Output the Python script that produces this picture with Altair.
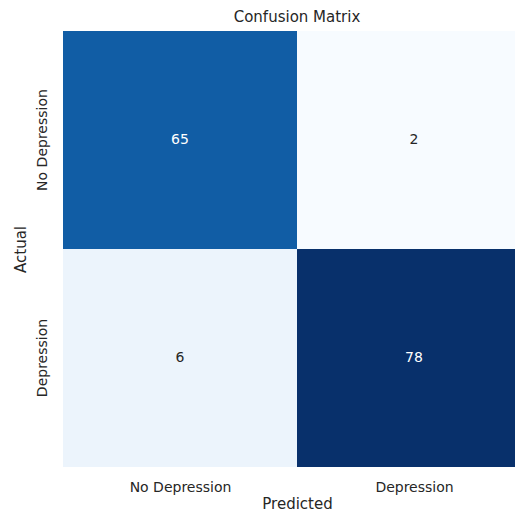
import altair as alt
import pandas as pd

labels = ["No Depression", "Depression"]
actual = ["No Depression", "No Depression", "Depression", "Depression"]
predicted = ["No Depression", "Depression", "No Depression", "Depression"]
counts = [65, 2, 6, 78]

blues = ["#f7fbff", "#deebf7", "#c6dbef", "#9ecae1", "#6baed6",
         "#4292c6", "#2171b5", "#08519c", "#08306b"]
vmin, vmax = 2, 78
stops = [vmin + i * (vmax - vmin) / 8 for i in range(9)]

df = pd.DataFrame({"Actual": actual, "Predicted": predicted, "count": counts})
df["px"] = [labels.index(p) for p in df["Predicted"]]
df["px2"] = df["px"] + 1
df["pxc"] = df["px"] + 0.5

font = "DejaVu Sans"
plot_w = 452
cell_w = 234
# the second column is cut by the image's right edge in the reference
x_domain_max = plot_w / cell_w
label_expr = "[" + ",".join("'%s'" % l for l in labels) + "][floor(datum.value)]"

x_axis = alt.Axis(values=[0.5, 1.5], labelExpr=label_expr, labelAngle=0, ticks=False,
                  domain=False, grid=False, labelPadding=13,
                  labelFontSize=14, titleFontSize=15, titlePadding=2,
                  titleX=cell_w, titleAlign="center",
                  labelFont=font, titleFont=font, titleFontWeight="normal",
                  labelColor="#262626", titleColor="#262626")
x_scale = alt.Scale(domain=[0, x_domain_max], nice=False, zero=False)

y_enc = alt.Y("Actual:N", sort=labels, title="Actual",
              scale=alt.Scale(paddingInner=0, paddingOuter=0),
              axis=alt.Axis(labelAngle=-90, labelAlign="center", labelBaseline="bottom",
                            ticks=False, domain=False, labelPadding=14,
                            labelFontSize=14, titleFontSize=15, titlePadding=7,
                            labelFont=font, titleFont=font, titleFontWeight="normal",
                            labelColor="#262626", titleColor="#262626"))

rect = alt.Chart(df).mark_rect(clip=True).encode(
    x=alt.X("px:Q", title="Predicted", scale=x_scale, axis=x_axis),
    x2="px2:Q",
    y=y_enc,
    color=alt.Color("count:Q", legend=None,
                    scale=alt.Scale(domain=stops, range=blues, interpolate="rgb")),
)

text = alt.Chart(df).mark_text(font=font, fontSize=14).encode(
    x=alt.X("pxc:Q", title="Predicted", scale=x_scale, axis=x_axis),
    y=y_enc,
    text="count:Q",
    color=alt.condition(alt.datum["count"] > 40, alt.value("#ffffff"), alt.value("#262626")),
)

chart = (rect + text).properties(
    width=plot_w, height=436,
    title=alt.TitleParams("Confusion Matrix", font=font, fontSize=15, anchor="middle",
                          frame="group", dx=cell_w - plot_w / 2,
                          fontWeight="normal", color="#262626", offset=6),
    autosize=alt.AutoSizeParams(type="none"),
    padding={"left": 55, "top": 23, "right": 0, "bottom": 44},
).configure_view(stroke=None)

chart.save("out.html", embed_options={"renderer": "svg", "actions": False})
